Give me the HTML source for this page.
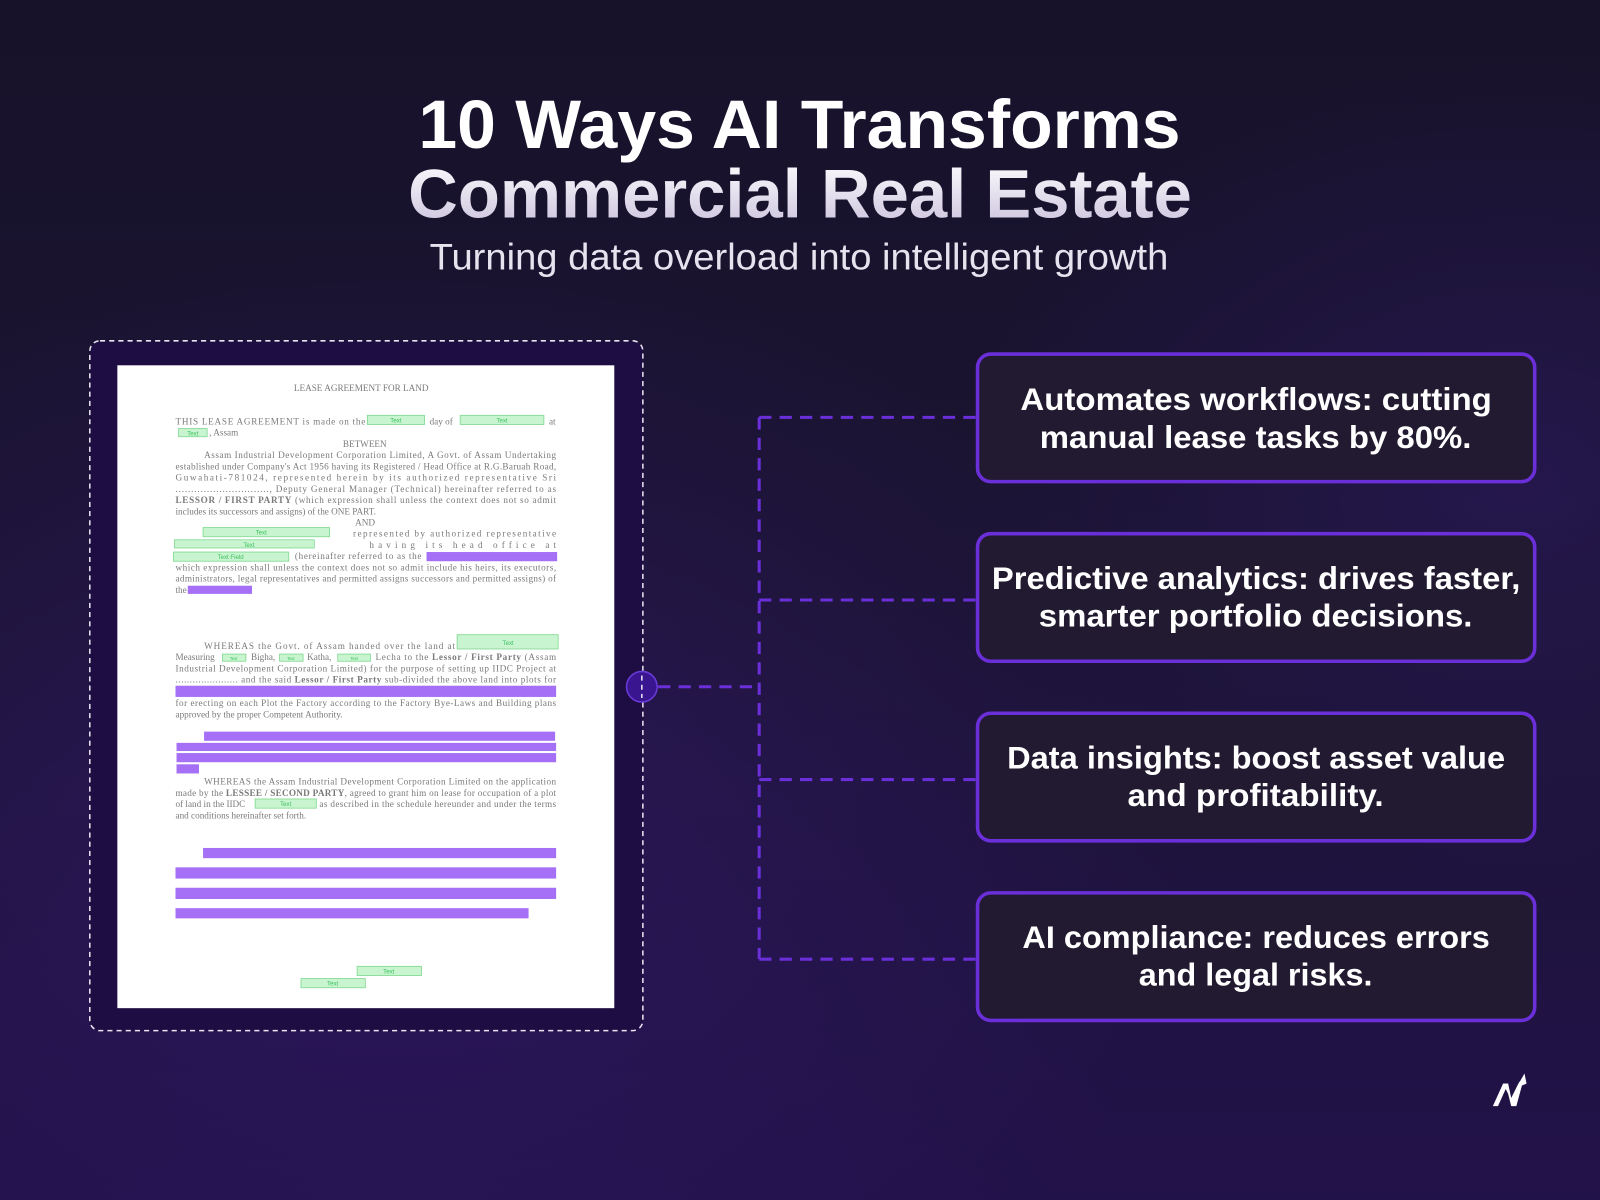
<!DOCTYPE html>
<html><head><meta charset="utf-8"><style>
html,body{margin:0;padding:0;background:#160f26;}
svg{display:block}
.d{font-family:"Liberation Serif",serif;font-size:9px;fill:#7a7a7a}
.g{font-family:"Liberation Sans",sans-serif;font-size:6px;fill:#3cc060}
.c{font-family:"Liberation Sans",sans-serif;font-weight:bold;font-size:31px;fill:#fff}
</style></head><body>
<svg width="1600" height="1200" viewBox="0 0 1568 1176" preserveAspectRatio="none" xmlns="http://www.w3.org/2000/svg">
<defs>
<linearGradient id="bg" x1="0" y1="0" x2="0" y2="1">
<stop offset="0" stop-color="#17122a"/><stop offset="0.5" stop-color="#1b1433"/><stop offset="1" stop-color="#22124a"/>
</linearGradient>
<radialGradient id="glow" cx="0.25" cy="0.7" r="0.5"><stop offset="0" stop-color="#3a1a7a" stop-opacity="0.45"/><stop offset="1" stop-color="#3a1a7a" stop-opacity="0"/></radialGradient>
<radialGradient id="glow2" cx="0.95" cy="0.4" r="0.35"><stop offset="0" stop-color="#2e1a66" stop-opacity="0.5"/><stop offset="1" stop-color="#2e1a66" stop-opacity="0"/></radialGradient>
<linearGradient id="tg" x1="0" y1="0" x2="0" y2="1"><stop offset="0" stop-color="#ffffff"/><stop offset="1" stop-color="#c9c0dc"/></linearGradient>
</defs>
<rect width="1568" height="1176" fill="url(#bg)"/>
<rect width="1568" height="1176" fill="url(#glow)"/>
<rect width="1568" height="1176" fill="url(#glow2)"/>

<text x="410" y="145" textLength="747" lengthAdjust="spacingAndGlyphs" font-family="Liberation Sans,sans-serif" font-weight="bold" font-size="67" fill="#fff">10 Ways AI Transforms</text>
<text x="400" y="213" textLength="768" lengthAdjust="spacingAndGlyphs" font-family="Liberation Sans,sans-serif" font-weight="bold" font-size="67" fill="url(#tg)">Commercial Real Estate</text>
<text x="421" y="264" textLength="724" lengthAdjust="spacingAndGlyphs" font-family="Liberation Sans,sans-serif" font-size="36" fill="#e6e2ee">Turning data overload into intelligent growth</text>

<rect x="88" y="334" width="542" height="676" rx="10" fill="#1e0d42" stroke="#e8e4f0" stroke-width="1.5" stroke-dasharray="5 4"/>
<rect x="115" y="358" width="487" height="630" fill="#fff"/>

<g class="d">
<text x="288" y="383" font-size="9">LEASE AGREEMENT FOR LAND</text>
<text x="172" y="416" textLength="186" lengthAdjust="spacing">THIS LEASE AGREEMENT is made on the</text>
<text x="421" y="416">day of</text><text x="538" y="416">at</text>
<text x="205" y="427">, Assam</text>
<text x="336" y="438">BETWEEN</text>
<text x="200" y="449" textLength="345" lengthAdjust="spacing">Assam Industrial Development Corporation Limited, A Govt. of Assam Undertaking</text>
<text x="172" y="460" textLength="373" lengthAdjust="spacing">established under Company's Act 1956 having its Registered / Head Office at R.G.Baruah Road,</text>
<text x="172" y="471" textLength="373" lengthAdjust="spacing">Guwahati-781024, represented herein by its authorized representative Sri</text>
<text x="172" y="482" textLength="373" lengthAdjust="spacing">.............................., Deputy General Manager (Technical) hereinafter referred to as</text>
<text x="172" y="493" textLength="373" lengthAdjust="spacing"><tspan font-weight="bold">LESSOR / FIRST PARTY</tspan> (which expression shall unless the context does not so admit</text>
<text x="172" y="504">includes its successors and assigns) of the ONE PART.</text>
<text x="348" y="515">AND</text>
<text x="346" y="526" textLength="199" lengthAdjust="spacing">represented by authorized representative</text>
<text x="362" y="537" textLength="183" lengthAdjust="spacing">having its head office at</text>
<text x="289" y="548" textLength="124" lengthAdjust="spacing">(hereinafter referred to as the</text>
<text x="172" y="559" textLength="373" lengthAdjust="spacing">which expression shall unless the context does not so admit include his heirs, its executors,</text>
<text x="172" y="570" textLength="373" lengthAdjust="spacing">administrators, legal representatives and permitted assigns successors and permitted assigns) of</text>
<text x="172" y="581">the</text>
<text x="200" y="636" textLength="246" lengthAdjust="spacing">WHEREAS the Govt. of Assam handed over the land at</text>
<text x="172" y="647">Measuring</text><text x="246" y="647">Bigha,</text><text x="301" y="647">Katha,</text>
<text x="368" y="647" textLength="177" lengthAdjust="spacing">Lecha to the <tspan font-weight="bold">Lessor / First Party</tspan> (Assam</text>
<text x="172" y="658" textLength="373" lengthAdjust="spacing">Industrial Development Corporation Limited) for the purpose of setting up IIDC Project at</text>
<text x="172" y="669" textLength="373" lengthAdjust="spacing">...................... and the said <tspan font-weight="bold">Lessor / First Party</tspan> sub-divided the above land into plots for</text>
<text x="172" y="692" textLength="373" lengthAdjust="spacing">for erecting on each Plot the Factory according to the Factory Bye-Laws and Building plans</text>
<text x="172" y="703">approved by the proper Competent Authority.</text>
<text x="200" y="769" textLength="345" lengthAdjust="spacing">WHEREAS the Assam Industrial Development Corporation Limited on the application</text>
<text x="172" y="780" textLength="373" lengthAdjust="spacing">made by the <tspan font-weight="bold">LESSEE / SECOND PARTY</tspan>, agreed to grant him on lease for occupation of a plot</text>
<text x="172" y="791">of land in the IIDC</text>
<text x="313" y="791" textLength="232" lengthAdjust="spacing">as described in the schedule hereunder and under the terms</text>
<text x="172" y="802">and conditions hereinafter set forth.</text>
</g>

<g fill="#c8f5cf" stroke="#7fd890" stroke-width="0.8">
<rect x="360" y="407" width="56" height="9"/><rect x="451" y="407" width="82" height="9"/>
<rect x="175" y="420" width="28" height="8"/>
<rect x="199" y="517" width="124" height="9"/><rect x="171" y="529" width="137" height="8"/>
<rect x="170" y="541" width="113" height="9"/>
<rect x="448" y="622" width="99" height="14"/>
<rect x="218" y="641" width="23" height="7"/><rect x="274" y="641" width="23" height="7"/><rect x="331" y="641" width="32" height="7"/>
<rect x="250" y="783" width="60" height="9"/>
<rect x="350" y="947" width="63" height="9"/><rect x="295" y="959" width="63" height="9"/>
</g>
<g class="g" text-anchor="middle">
<text x="388" y="414">Text</text><text x="492" y="414">Text</text><text x="189" y="427">Text</text>
<text x="256" y="524">Text</text><text x="244" y="536">Text</text><text x="226" y="548">Text Field</text>
<text x="498" y="632">Text</text><text x="229" y="647" font-size="4">Text</text><text x="285" y="647" font-size="4">Text</text><text x="347" y="647" font-size="4">Text</text>
<text x="280" y="790">Text</text><text x="381" y="954">Text</text><text x="326" y="966">Text</text>
</g>
<g fill="#a56ff6">
<rect x="418" y="541" width="128" height="9"/>
<rect x="184" y="574" width="63" height="8"/>
<rect x="172" y="672" width="373" height="11"/>
<rect x="200" y="717" width="344" height="9"/><rect x="173" y="728" width="372" height="8"/><rect x="173" y="738" width="372" height="9"/><rect x="173" y="749" width="22" height="9"/>
<rect x="199" y="831" width="346" height="10"/><rect x="172" y="850" width="373" height="11"/><rect x="172" y="870" width="373" height="11"/><rect x="172" y="890" width="346" height="10"/>
</g>

<g stroke="#6a2fd8" stroke-width="3" stroke-dasharray="12 8" fill="none">
<path d="M744 409 L744 940"/>
<path d="M744 409 L958 409"/><path d="M744 588 L958 588"/><path d="M744 764 L958 764"/><path d="M744 940 L958 940"/>
<path d="M645 673 L744 673"/>
</g>
<circle cx="629" cy="673" r="15" fill="#3a1590" stroke="#6a3ad8" stroke-width="1.5"/>
<path d="M629 662 L629 684" stroke="#e8e4f0" stroke-width="1.5" stroke-dasharray="5 4"/>

<g fill="#221a30" stroke="#6a2fd8" stroke-width="3.5">
<rect x="958" y="347" width="546" height="125" rx="13"/>
<rect x="958" y="523" width="546" height="125" rx="13"/>
<rect x="958" y="699" width="546" height="125" rx="13"/>
<rect x="958" y="875" width="546" height="125" rx="13"/>
</g>
<g class="c">
<text x="1000" y="402" textLength="462" lengthAdjust="spacingAndGlyphs">Automates workflows: cutting</text>
<text x="1019" y="439" textLength="423" lengthAdjust="spacingAndGlyphs">manual lease tasks by 80%.</text>
<text x="972" y="577" textLength="518" lengthAdjust="spacingAndGlyphs">Predictive analytics: drives faster,</text>
<text x="1018" y="614" textLength="425" lengthAdjust="spacingAndGlyphs">smarter portfolio decisions.</text>
<text x="987" y="753" textLength="488" lengthAdjust="spacingAndGlyphs">Data insights: boost asset value</text>
<text x="1105" y="790" textLength="251" lengthAdjust="spacingAndGlyphs">and profitability.</text>
<text x="1002" y="929" textLength="458" lengthAdjust="spacingAndGlyphs">AI compliance: reduces errors</text>
<text x="1116" y="966" textLength="229" lengthAdjust="spacingAndGlyphs">and legal risks.</text>
</g>

<g fill="#fff">
<path d="M1463 1084 L1473 1062 L1478 1062 L1468 1084 Z"/>
<path d="M1473 1062 L1478 1062 L1481 1076 L1489 1060 L1492 1062 L1486 1084 L1481 1084 L1478 1072 Z"/>
<path d="M1486 1066 L1494 1052 L1496 1062 Z"/>
</g>
</svg>
</body></html>
